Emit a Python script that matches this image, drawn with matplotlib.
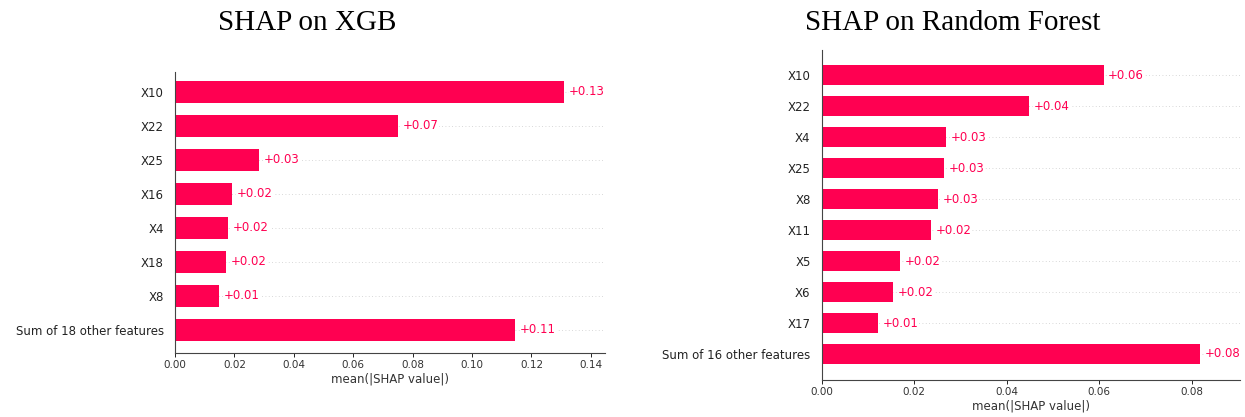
import matplotlib
matplotlib.use("Agg")
import matplotlib.pyplot as plt
import numpy as np

# SHAP on XGB
xgb_features = ["X10", "X22", "X25", "X16", "X4", "X18", "X8", "Sum of 18 other features"]
xgb_values = [0.1311, 0.0750, 0.0284, 0.0191, 0.0179, 0.0171, 0.0149, 0.1146]
xgb_labels = ["+0.13", "+0.07", "+0.03", "+0.02", "+0.02", "+0.02", "+0.01", "+0.11"]
xgb_ticks = [0.00, 0.02, 0.04, 0.06, 0.08, 0.10, 0.12, 0.14]

# SHAP on Random Forest
rf_features = ["X10", "X22", "X4", "X25", "X8", "X11", "X5", "X6", "X17", "Sum of 16 other features"]
rf_values = [0.0609, 0.0448, 0.0268, 0.0265, 0.0251, 0.0236, 0.0169, 0.0155, 0.0122, 0.0818]
rf_labels = ["+0.06", "+0.04", "+0.03", "+0.03", "+0.03", "+0.02", "+0.02", "+0.02", "+0.01", "+0.08"]
rf_ticks = [0.00, 0.02, 0.04, 0.06, 0.08]

BAR_COLOR = "#ff0051"


def shap_bar(ax, features, values, labels, ticks, xmax, pad_top, pad_bot):
    y = np.arange(len(features))
    for yy in y:
        ax.axhline(yy, color="#cccccc", lw=0.6, dashes=(1, 3), zorder=-1)
    ax.barh(y, values, height=0.66, color=BAR_COLOR, zorder=2)
    off = xmax / 90
    for yy, v, lab in zip(y, values, labels):
        ax.text(v + off, yy, lab, color=BAR_COLOR, va="center", ha="left",
                fontsize=8.5, zorder=3,
                bbox=dict(facecolor="white", edgecolor="none", pad=0.5))
    ax.set_yticks(y)
    ax.set_yticklabels(features, fontsize=8.5, color="#222222")
    ax.set_ylim(len(features) - 1 + pad_bot, -pad_top)
    ax.set_xlim(0, xmax)
    ax.set_xticks(ticks)
    ax.set_xticklabels(["%.2f" % t for t in ticks], fontsize=7.5, color="#333333")
    ax.set_xlabel("mean(|SHAP value|)", fontsize=8.5, color="#333333", labelpad=2)
    ax.tick_params(axis="y", length=0, pad=8)
    ax.tick_params(axis="x", length=3, width=0.6, pad=2)
    ax.spines["top"].set_visible(False)
    ax.spines["right"].set_visible(False)
    ax.spines["left"].set_color("#444444")
    ax.spines["bottom"].set_color("#444444")


fig = plt.figure(figsize=(12.45, 4.17), dpi=100)

ax1 = fig.add_axes([0.1406, 0.1535, 0.345, 0.674])
shap_bar(ax1, xgb_features, xgb_values, xgb_labels, xgb_ticks, 0.1446, 0.59, 0.68)

ax2 = fig.add_axes([0.660, 0.0887, 0.336, 0.791])
shap_bar(ax2, rf_features, rf_values, rf_labels, rf_ticks, 0.0904, 0.81, 0.84)

fig.text(0.2466, 0.945, "SHAP on XGB", family="Liberation Serif", fontsize=21,
         ha="center", va="center")
fig.text(0.765, 0.945, "SHAP on Random Forest", family="Liberation Serif", fontsize=21,
         ha="center", va="center")

fig.savefig("out.png", dpi=100)
